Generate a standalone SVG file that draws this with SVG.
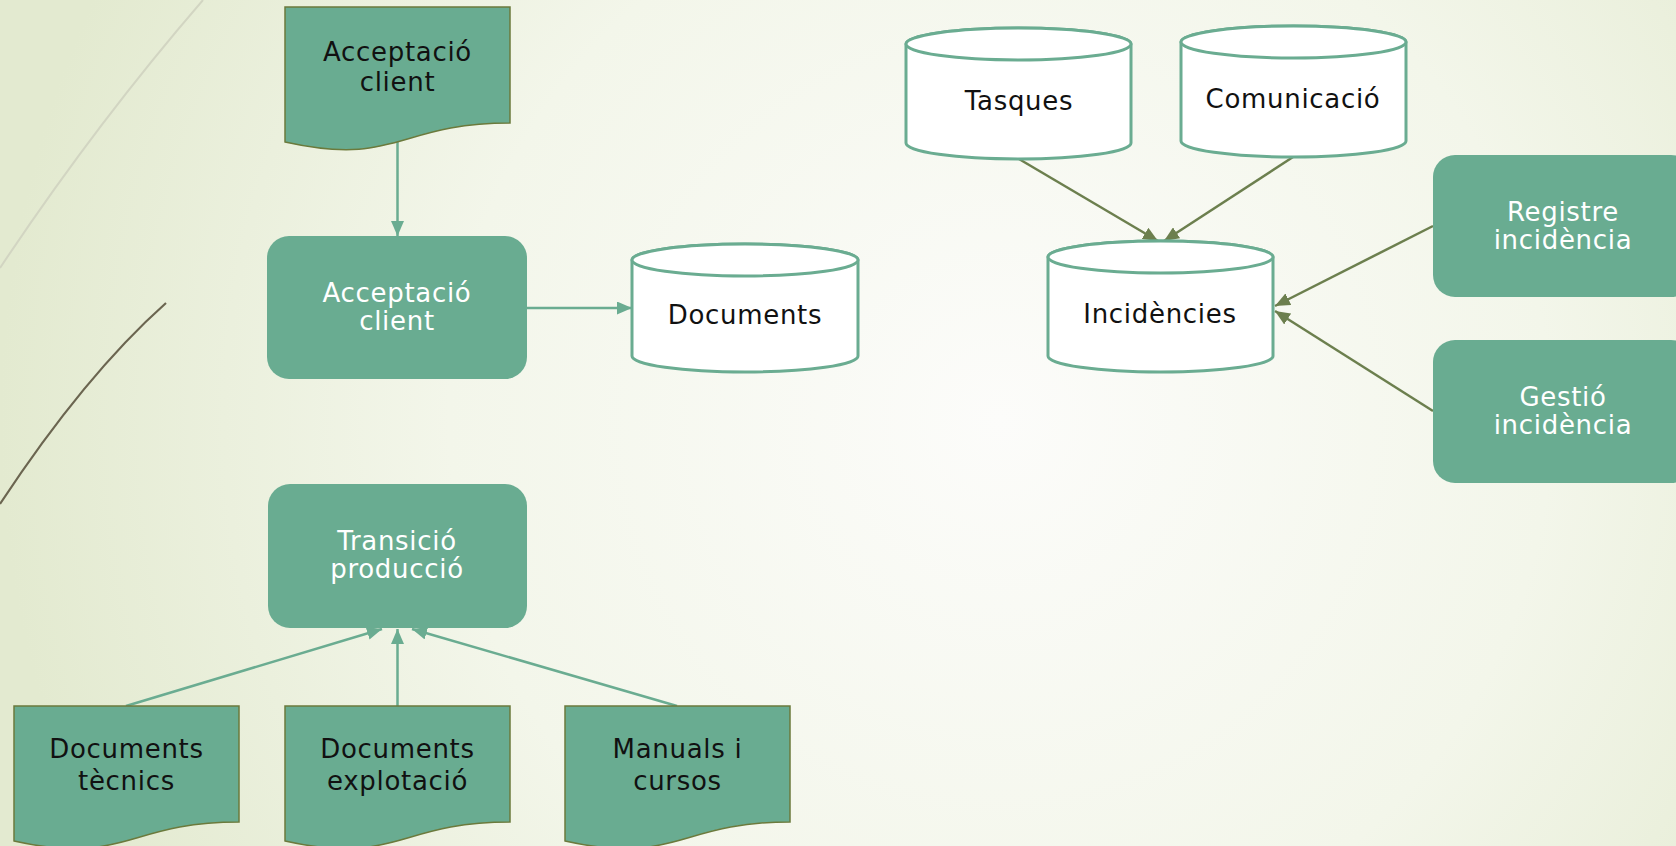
<svg xmlns="http://www.w3.org/2000/svg" width="1676" height="846" viewBox="0 0 1676 846">
<defs>
<radialGradient id="bg" gradientUnits="userSpaceOnUse" cx="1000" cy="420" r="1000">
<stop offset="0" stop-color="#fcfcfa"/>
<stop offset="0.55" stop-color="#f3f6ea"/>
<stop offset="1" stop-color="#e3ead0"/>
</radialGradient>
<marker id="ah-teal" markerUnits="userSpaceOnUse" markerWidth="15" markerHeight="13" refX="15" refY="6.5" orient="auto">
<path d="M0,0 L15,6.5 L0,13 Z" fill="#6aac91"/>
</marker>
<marker id="ah-olive" markerUnits="userSpaceOnUse" markerWidth="15" markerHeight="13" refX="15" refY="6.5" orient="auto">
<path d="M0,0 L15,6.5 L0,13 Z" fill="#6c7f4e"/>
</marker>
</defs>
<style>
.doc{fill:#69ac91;stroke:#6b7a3c;stroke-width:1.5}
.proc{fill:#69ac91;stroke:none}
.cyl{fill:#ffffff;stroke:#6aac91;stroke-width:3}
.t{font-family:"DejaVu Sans",Verdana,sans-serif;font-size:26px;letter-spacing:0.7px;text-anchor:middle}
.dark{fill:#111111}
.light{fill:#ffffff}
.ct{fill:none;stroke:#6aac91;stroke-width:2.5;marker-end:url(#ah-teal)}
.co{fill:none;stroke:#6c7f4e;stroke-width:2.5;marker-end:url(#ah-olive)}
</style>
<rect x="0" y="0" width="1676" height="846" fill="url(#bg)"/>
<g id="decor">
<path d="M203,0 Q95,125 0,268" fill="none" stroke="#d2d5c2" stroke-width="2"/>
<path d="M166,303 Q85,375 0,504" fill="none" stroke="#6b6550" stroke-width="2.2"/>
</g>

<g id="connectors">
<line class="ct" x1="397.5" y1="142" x2="397.5" y2="236"/>
<line class="ct" x1="527" y1="308" x2="632" y2="308"/>
<line class="ct" x1="126" y1="706" x2="382" y2="629"/>
<line class="ct" x1="397.5" y1="706" x2="397.5" y2="629"/>
<line class="ct" x1="677" y1="706" x2="412" y2="629"/>
<line class="co" x1="1019" y1="159" x2="1158" y2="241"/>
<line class="co" x1="1293" y1="157" x2="1164" y2="241"/>
<line class="co" x1="1433" y1="226" x2="1275" y2="306"/>
<line class="co" x1="1433" y1="411" x2="1275" y2="311"/>
</g>

<g id="doc-acceptacio">
<path class="doc" d="M285,7 H510 V123 C397.5,123 397.5,167 285,142 Z"/>
<text class="t dark" x="397.5" y="61">Acceptació</text>
<text class="t dark" x="397.5" y="91">client</text>
</g>

<g id="proc-acceptacio">
<rect class="proc" x="267" y="236" width="260" height="143" rx="22"/>
<text class="t light" x="397" y="302">Acceptació</text>
<text class="t light" x="397" y="330">client</text>
</g>

<g id="cyl-documents">
<path class="cyl" d="M632,260 A113,16 0 0 1 858,260 V356 A113,16 0 0 1 632,356 Z"/>
<ellipse class="cyl" cx="745" cy="260" rx="113" ry="16"/>
<text class="t dark" x="745" y="324">Documents</text>
</g>

<g id="proc-transicio">
<rect class="proc" x="268" y="484" width="259" height="144" rx="22"/>
<text class="t light" x="397" y="550">Transició</text>
<text class="t light" x="397" y="578">producció</text>
</g>

<g id="doc-tecnics">
<path class="doc" d="M14,706 H239 V822 C126.5,822 126.5,866 14,841 Z"/>
<text class="t dark" x="126.5" y="758">Documents</text>
<text class="t dark" x="126.5" y="790">tècnics</text>
</g>

<g id="doc-explotacio">
<path class="doc" d="M285,706 H510 V822 C397.5,822 397.5,866 285,841 Z"/>
<text class="t dark" x="397.5" y="758">Documents</text>
<text class="t dark" x="397.5" y="790">explotació</text>
</g>

<g id="doc-manuals">
<path class="doc" d="M565,706 H790 V822 C677.5,822 677.5,866 565,841 Z"/>
<text class="t dark" x="677.5" y="758">Manuals i</text>
<text class="t dark" x="677.5" y="790">cursos</text>
</g>

<g id="cyl-tasques">
<path class="cyl" d="M906,44 A112.5,16 0 0 1 1131,44 V143 A112.5,16 0 0 1 906,143 Z"/>
<ellipse class="cyl" cx="1018.5" cy="44" rx="112.5" ry="16"/>
<text class="t dark" x="1019" y="110">Tasques</text>
</g>

<g id="cyl-comunicacio">
<path class="cyl" d="M1181,42 A112.5,16 0 0 1 1406,42 V141 A112.5,16 0 0 1 1181,141 Z"/>
<ellipse class="cyl" cx="1293.5" cy="42" rx="112.5" ry="16"/>
<text class="t dark" x="1293" y="108">Comunicació</text>
</g>

<g id="cyl-incidencies">
<path class="cyl" d="M1048,257 A112.5,16 0 0 1 1273,257 V356 A112.5,16 0 0 1 1048,356 Z"/>
<ellipse class="cyl" cx="1160.5" cy="257" rx="112.5" ry="16"/>
<text class="t dark" x="1160" y="323">Incidències</text>
</g>

<g id="proc-registre">
<rect class="proc" x="1433" y="155" width="260" height="142" rx="22"/>
<text class="t light" x="1563" y="221">Registre</text>
<text class="t light" x="1563" y="249">incidència</text>
</g>

<g id="proc-gestio">
<rect class="proc" x="1433" y="340" width="260" height="143" rx="22"/>
<text class="t light" x="1563" y="406">Gestió</text>
<text class="t light" x="1563" y="434">incidència</text>
</g>
</svg>
